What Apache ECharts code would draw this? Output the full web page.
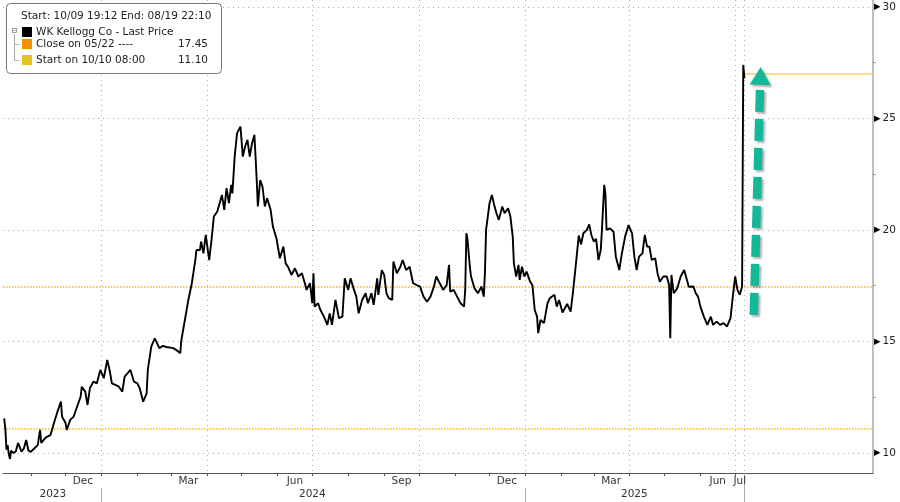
<!DOCTYPE html>
<html><head><meta charset="utf-8">
<script src="https://cdn.jsdelivr.net/npm/echarts@6.0.0/dist/echarts.min.js"></script>
<style>html,body{margin:0;padding:0;background:#fff}#c{width:900px;height:502px}</style>
</head><body><div id="c"></div>
<script>
// ---------------- DATA ----------------
const dates = [
'2023-10-09','2023-10-10','2023-10-11','2023-10-12','2023-10-13','2023-10-14','2023-10-15','2023-10-17','2023-10-19','2023-10-21',
'2023-10-22','2023-10-24','2023-10-26','2023-10-28','2023-10-30','2023-11-01','2023-11-04','2023-11-07','2023-11-09','2023-11-10',
'2023-11-14','2023-11-18','2023-11-21','2023-11-24','2023-11-27','2023-11-28','2023-12-01','2023-12-02','2023-12-05','2023-12-08',
'2023-12-11','2023-12-14','2023-12-15','2023-12-18','2023-12-20','2023-12-22','2023-12-25','2023-12-28','2023-12-31','2024-01-03',
'2024-01-06','2024-01-08','2024-01-10','2024-01-13','2024-01-16','2024-01-19','2024-01-21','2024-01-26','2024-01-29','2024-02-01',
'2024-02-03','2024-02-06','2024-02-09','2024-02-10','2024-02-13','2024-02-16','2024-02-20','2024-02-23','2024-02-26','2024-03-03',
'2024-03-06','2024-03-09','2024-03-10','2024-03-13','2024-03-16','2024-03-19','2024-03-22','2024-03-23','2024-03-26','2024-03-27',
'2024-03-29','2024-03-31','2024-04-03','2024-04-05','2024-04-07','2024-04-10','2024-04-12','2024-04-14','2024-04-16','2024-04-18',
'2024-04-20','2024-04-22','2024-04-23','2024-04-25','2024-04-27','2024-04-30','2024-05-02','2024-05-04','2024-05-06','2024-05-08',
'2024-05-10','2024-05-12','2024-05-13','2024-05-14','2024-05-15','2024-05-17','2024-05-19','2024-05-21','2024-05-23','2024-05-26',
'2024-05-28','2024-05-31','2024-06-03','2024-06-06','2024-06-08','2024-06-10','2024-06-13','2024-06-16','2024-06-19','2024-06-22',
'2024-06-25','2024-06-26','2024-06-29','2024-07-01','2024-07-02','2024-07-03','2024-07-06','2024-07-08','2024-07-11','2024-07-14',
'2024-07-16','2024-07-18','2024-07-21','2024-07-24','2024-07-27','2024-07-29','2024-08-01','2024-08-03','2024-08-06','2024-08-08',
'2024-08-10','2024-08-13','2024-08-16','2024-08-18','2024-08-21','2024-08-23','2024-08-26','2024-08-27','2024-08-30','2024-09-01',
'2024-09-03','2024-09-05','2024-09-08','2024-09-09','2024-09-12','2024-09-15','2024-09-17','2024-09-20','2024-09-23','2024-09-26',
'2024-09-29','2024-10-02','2024-10-05','2024-10-08','2024-10-11','2024-10-14','2024-10-16','2024-10-19','2024-10-22','2024-10-25',
'2024-10-27','2024-10-28','2024-10-31','2024-11-03','2024-11-06','2024-11-09','2024-11-10','2024-11-11','2024-11-12','2024-11-14',
'2024-11-15','2024-11-18','2024-11-21','2024-11-24','2024-11-26','2024-11-27','2024-11-28','2024-12-01','2024-12-03','2024-12-05',
'2024-12-07','2024-12-09','2024-12-12','2024-12-14','2024-12-17','2024-12-19','2024-12-21','2024-12-22','2024-12-24','2024-12-26',
'2024-12-27','2024-12-29','2024-12-31','2025-01-02','2025-01-05','2025-01-07','2025-01-09','2025-01-11','2025-01-12','2025-01-14',
'2025-01-17','2025-01-20','2025-01-22','2025-01-26','2025-01-28','2025-01-30','2025-02-02','2025-02-06','2025-02-09','2025-02-11',
'2025-02-13','2025-02-16','2025-02-18','2025-02-20','2025-02-23','2025-02-25','2025-02-27','2025-03-01','2025-03-03','2025-03-05',
'2025-03-07','2025-03-08','2025-03-10','2025-03-11','2025-03-12','2025-03-15','2025-03-18','2025-03-20','2025-03-23','2025-03-25',
'2025-03-28','2025-03-31','2025-04-03','2025-04-05','2025-04-07','2025-04-09','2025-04-12','2025-04-14','2025-04-16','2025-04-18',
'2025-04-20','2025-04-23','2025-04-25','2025-04-27','2025-04-30','2025-05-03','2025-05-05','2025-05-06','2025-05-07','2025-05-09',
'2025-05-12','2025-05-15','2025-05-18','2025-05-20','2025-05-22','2025-05-26','2025-05-28','2025-05-30','2025-06-01','2025-06-04',
'2025-06-07','2025-06-10','2025-06-12','2025-06-15','2025-06-18','2025-06-21','2025-06-24','2025-06-27','2025-06-29','2025-07-01',
'2025-07-03','2025-07-05','2025-07-07','2025-07-08','2025-07-09'
];
const prices = [
11.55,11.10,10.15,10.35,9.95,9.73,10.10,10.00,10.06,10.45,
10.40,10.06,10.20,10.58,10.10,10.05,10.20,10.35,11.03,10.45,
10.70,10.80,11.34,11.85,12.30,11.63,11.34,11.03,11.48,11.63,
12.08,12.52,12.97,12.75,12.15,12.90,13.20,13.12,13.72,13.35,
14.17,13.72,13.12,13.05,12.97,12.75,13.42,13.72,13.20,13.12,
12.90,12.30,12.67,13.72,14.77,15.14,14.70,14.80,14.75,14.70,
14.60,14.47,15.07,15.96,16.86,17.61,18.65,19.10,19.10,19.48,
18.95,19.78,18.65,19.55,20.60,20.83,21.20,21.57,20.90,21.87,
21.20,22.02,21.64,23.29,24.33,24.63,23.29,23.74,24.04,23.29,
23.89,24.26,23.29,22.24,21.05,22.24,21.94,21.05,21.42,20.90,
20.15,19.63,18.73,19.25,18.50,18.35,17.98,18.28,17.91,18.06,
17.53,17.31,17.61,16.71,18.06,16.56,16.71,16.41,16.11,15.74,
16.26,15.74,16.86,16.04,16.11,17.83,17.31,17.83,17.31,17.01,
16.26,16.86,17.16,16.71,17.16,16.64,17.83,17.09,18.20,17.98,
17.16,16.94,16.86,18.58,18.06,18.35,18.65,18.20,18.35,17.61,
17.53,17.46,17.01,16.78,17.01,17.46,17.91,17.61,17.31,17.53,
18.43,17.23,17.31,17.01,16.71,16.56,17.31,19.85,19.55,18.35,
17.91,17.38,17.16,17.46,17.01,18.06,20.00,21.20,21.57,21.12,
20.75,20.45,21.05,20.75,20.97,20.60,19.70,18.50,17.91,18.43,
17.76,18.35,17.91,18.13,17.68,17.53,16.41,16.11,15.37,15.96,
15.82,16.71,16.94,17.09,16.56,16.86,16.30,16.68,16.34,17.20,
18.20,19.75,19.35,19.85,20.00,20.25,19.75,19.48,19.60,18.65,
19.10,20.00,22.02,21.64,20.00,20.07,19.92,18.80,18.20,18.88,
19.70,20.22,19.85,18.80,18.20,18.80,18.95,19.78,19.25,19.25,
18.65,18.73,18.06,17.68,17.91,17.91,17.53,15.14,17.98,17.16,
17.38,17.91,18.20,17.83,17.45,17.46,17.16,17.01,16.56,16.11,
15.74,16.11,15.74,15.89,15.74,15.82,15.67,16.04,17.01,17.91,
17.31,17.09,17.46,27.40,26.80
];
const seriesName = 'WK Kellogg Co - Last Price';
const headerText = 'Start: 10/09 19:12 End: 08/19 22:10';
const closeLevel = 17.45, closeLabel = 'Close on 05/22 ----';
const startLevel = 11.10, startLabel = 'Start on 10/10 08:00';
const lastLevel = 27.0;
const dataEnd = '2025-07-09';
const xRange = ['2023-10-08', '2025-10-28'];
const yRange = [9.1, 30.31];
const yTicks = [10, 15, 20, 25, 30];
const yMinorTicks = [12.5, 17.5, 22.5, 27.5];
const quarterTicks = ['2024-01-01','2024-04-01','2024-07-01','2024-10-01','2025-01-01','2025-04-01','2025-07-01','2025-07-09'];
const monthTicks = ['2023-11-01','2023-12-01','2024-01-01','2024-02-01','2024-03-01','2024-04-01','2024-05-01','2024-06-01','2024-07-01','2024-08-01','2024-09-01','2024-10-01','2024-11-01','2024-12-01','2025-01-01','2025-02-01','2025-03-01','2025-04-01','2025-05-01','2025-06-01','2025-07-01'];
const monthLabelDates = ['2023-12-16','2024-03-16','2024-06-16','2024-09-16','2024-12-16','2025-03-16','2025-06-16','2025-07-05'];
const monthLabelTexts = ['Dec','Mar','Jun','Sep','Dec','Mar','Jun','Jul'];
const yearLabelDates = ['2023-11-20','2024-07-01','2025-04-05'];
const yearLabelTexts = ['2023','2024','2025'];
const yearSeparators = ['2024-01-01','2025-01-01'];
const arrowTail = ['2025-07-17', 16.05];
const arrowTip = ['2025-07-23', 27.31];

// ---------------- CHART ----------------
const ts = s => { const p = s.split('-').map(Number); return Date.UTC(p[0], p[1]-1, p[2]); };
const FONT = 'DejaVu Sans';
const monthMap = {}; monthLabelDates.forEach((d,i)=>monthMap[ts(d)] = monthLabelTexts[i]);
const yearMap = {}; yearLabelDates.forEach((d,i)=>yearMap[ts(d)] = yearLabelTexts[i]);
const seriesData = dates.map((d,i)=>[ts(d), prices[i]]);
const xMin = ts(xRange[0]), xMax = ts(xRange[1]);

function xAxisBase(extra){
  return Object.assign({
    type: 'value', gridIndex: 0, position: 'bottom', min: xMin, max: xMax, scale: true,
    axisLine: {show:false}, axisTick: {show:false}, axisLabel: {show:false}, splitLine: {show:false}
  }, extra);
}

const chart = echarts.init(document.getElementById('c'), null, {renderer: 'canvas'});
const option = {
  animation: false,
  backgroundColor: '#ffffff',
  grid: {left: 3, right: 27, top: 0, bottom: 29, outerBoundsMode: 'none', containLabel: false},
  xAxis: [
    xAxisBase({
      axisLine: {show: true, lineStyle: {color: '#555', width: 1}},
      axisTick: {show: true, customValues: quarterTicks.map(ts), length: 3, lineStyle: {color: '#555'}},
      axisLabel: {show: true, customValues: monthLabelDates.map(ts), formatter: v => monthMap[v] || '',
        margin: 3, fontFamily: FONT, fontSize: 10.5, color: '#333', hideOverlap: false},
      splitLine: {show: true, lineStyle: {color: '#aaaaaa', width: 1, type: [1, 4]}}
    }),
    xAxisBase({
      axisTick: {show: true, customValues: monthTicks.map(ts), length: 3, lineStyle: {color: '#555'}}
    }),
    xAxisBase({
      offset: 15,
      axisTick: {show: true, customValues: yearSeparators.map(ts), length: 14, lineStyle: {color: '#aaa'}},
      axisLabel: {show: true, customValues: yearLabelDates.map(ts), formatter: v => yearMap[v] || '',
        margin: 1, fontFamily: FONT, fontSize: 10.5, color: '#333', hideOverlap: false}
    }),
    xAxisBase({
      axisTick: {show: true, customValues: [ts(dataEnd)], length: 29, lineStyle: {color: '#aaa'}}
    })
  ],
  yAxis: [
    {
      type: 'value', position: 'right', min: yRange[0], max: yRange[1],
      axisLine: {show: true, lineStyle: {color: '#a8a8a8', width: 1.5}},
      axisTick: {show: false, customValues: yTicks},
      axisLabel: {show: true, customValues: yTicks, margin: 1, hideOverlap: false,
        formatter: v => '{t|\u25B6}{v|' + v + '}',
        rich: {
          t: {fontSize: 8.5, fontFamily: FONT, color: '#000', padding: [0, 2, 0, 0]},
          v: {fontSize: 10.5, fontFamily: FONT, color: '#222'}
        }},
      splitLine: {show: true, lineStyle: {color: '#aaaaaa', width: 1, type: [1, 4]}}
    },
    {
      type: 'value', position: 'right', min: yRange[0], max: yRange[1],
      axisLine: {show: false},
      axisTick: {show: true, customValues: yMinorTicks, length: 3, lineStyle: {color: '#999'}},
      axisLabel: {show: false}, splitLine: {show: false}
    }
  ],
  series: [{
    name: seriesName, type: 'line', xAxisIndex: 0, yAxisIndex: 0,
    data: seriesData, showSymbol: false, symbol: 'none',
    lineStyle: {color: '#000', width: 1.9}, z: 5,
    markLine: {
      silent: true, symbol: ['none','none'], label: {show: false}, animation: false,
      data: [
        {yAxis: closeLevel, lineStyle: {color: '#f8b030', width: 1.5, type: [1.5, 1.5]}},
        {yAxis: startLevel, lineStyle: {color: '#efbe12', width: 1.5, type: [1.5, 1.5]}},
        [{coord: [ts(dataEnd), lastLevel], lineStyle: {color: '#f3d272', width: 1.5, type: 'solid'}},
         {coord: [xMax, lastLevel]}]
      ]
    }
  }]
};
chart.setOption(option);

// legend + arrow annotation
const tf = {fontSize: 10.5, fontFamily: FONT, fill: '#222', verticalAlign: 'middle'};
const legendEls = [
  {type: 'rect', shape: {x: 6.5, y: 3.5, width: 215, height: 70, r: 4}, style: {fill: '#fff', stroke: '#777', lineWidth: 1}, z: 100},
  {type: 'text', x: 21, y: 16.5, style: Object.assign({text: headerText}, tf), z: 101},
  {type: 'rect', shape: {x: 12.5, y: 28.5, width: 4, height: 4}, style: {fill: '#fff', stroke: '#999', lineWidth: 1}, z: 101},
  {type: 'line', shape: {x1: 13.5, y1: 30.5, x2: 15.5, y2: 30.5}, style: {stroke: '#999', lineWidth: 1}, z: 101},
  {type: 'polyline', shape: {points: [[14.5, 34], [14.5, 60.5], [19, 60.5]]}, style: {stroke: '#aaa', lineWidth: 1, fill: null}, z: 101},
  {type: 'line', shape: {x1: 14.5, y1: 44.5, x2: 19, y2: 44.5}, style: {stroke: '#aaa', lineWidth: 1}, z: 101},
  {type: 'rect', shape: {x: 22, y: 27, width: 10, height: 10}, style: {fill: '#000'}, z: 101},
  {type: 'text', x: 36, y: 32, style: Object.assign({text: seriesName}, tf), z: 101},
  {type: 'rect', shape: {x: 22, y: 39, width: 10, height: 10}, style: {fill: '#f39200'}, z: 101},
  {type: 'text', x: 36, y: 44.5, style: Object.assign({text: closeLabel}, tf), z: 101},
  {type: 'text', x: 208, y: 44.5, style: Object.assign({text: closeLevel.toFixed(2), align: 'right'}, tf), z: 101},
  {type: 'rect', shape: {x: 22, y: 55, width: 10, height: 10}, style: {fill: '#e6c41e'}, z: 101},
  {type: 'text', x: 36, y: 60.5, style: Object.assign({text: startLabel}, tf), z: 101},
  {type: 'text', x: 208, y: 60.5, style: Object.assign({text: startLevel.toFixed(2), align: 'right'}, tf), z: 101}
];

const tip = chart.convertToPixel({xAxisIndex: 0, yAxisIndex: 0}, [ts(arrowTip[0]), arrowTip[1]]);
const tail = chart.convertToPixel({xAxisIndex: 0, yAxisIndex: 0}, [ts(arrowTail[0]), arrowTail[1]]);
let dx = tip[0] - tail[0], dy = tip[1] - tail[1];
const len = Math.sqrt(dx*dx + dy*dy); dx /= len; dy /= len;
const headLen = 18, headHalf = 10.5, gap = 5;
const bx = tip[0] - dx*headLen, by = tip[1] - dy*headLen;
const px = -dy, py = dx;
const shadow = {shadowColor: 'rgba(0,0,0,0.3)', shadowBlur: 2, shadowOffsetX: 2, shadowOffsetY: 2};
const arrowEls = [
  {type: 'line', shape: {x1: bx - dx*gap, y1: by - dy*gap, x2: tail[0], y2: tail[1]},
   style: Object.assign({stroke: '#14b899', lineWidth: 8.5, lineDash: [22, 7], lineCap: 'butt'}, shadow), z: 50},
  {type: 'polygon', shape: {points: [[tip[0], tip[1]], [bx + px*headHalf, by + py*headHalf], [bx - px*headHalf, by - py*headHalf]]},
   style: Object.assign({fill: '#14b899'}, shadow), z: 50}
];
chart.setOption({graphic: legendEls.concat(arrowEls)});
</script>
</body></html>
